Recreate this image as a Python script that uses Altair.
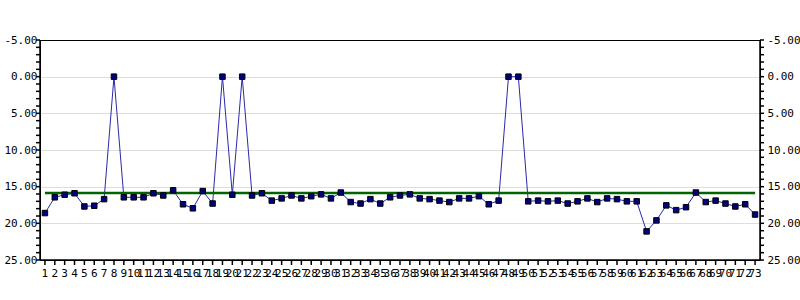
import altair as alt
import pandas as pd

categories = [str(i) for i in range(1, 74)]
values = [18.6, 16.45, 16.1, 15.9, 17.7, 17.6, 16.7, 0.0, 16.45, 16.45,
          16.45, 15.9, 16.2, 15.5, 17.4, 17.95, 15.6, 17.3, 0.0, 16.1,
          0.0, 16.2, 15.9, 16.9, 16.6, 16.2, 16.6, 16.3, 16.05, 16.6,
          15.8, 17.1, 17.3, 16.7, 17.3, 16.45, 16.2, 16.05, 16.6, 16.7,
          16.9, 17.1, 16.6, 16.6, 16.3, 17.4, 16.9, 0.0, 0.0, 17.0,
          16.9, 17.0, 16.9, 17.3, 17.0, 16.6, 17.1, 16.6, 16.7, 17.0,
          17.0, 21.1, 19.6, 17.55, 18.2, 17.8, 15.8, 17.1, 16.9, 17.3,
          17.7, 17.4, 18.8]
average = [15.85] * len(categories)
label_ticks = [-5, 0, 5, 10, 15, 20, 25]
grid_ticks = [0, 5, 10, 15, 20]
minor_ticks = list(range(-5, 26))

df = pd.DataFrame({"cat": categories, "value": values, "avg": average})
tick_df = pd.DataFrame({"t": minor_ticks})
edge_df = pd.DataFrame({"e": [-5, 25]})

FONT = "DejaVu Sans Mono"
FS = 11
LW = 1.5
LABEL_EXPR = ("datum.value < 0 ? '-' + format(-datum.value, '.2f') "
              ": format(datum.value, '.2f')")

xscale = alt.Scale(paddingInner=0, paddingOuter=0)
yscale = alt.Scale(domain=[-5, 25], reverse=True, nice=False, zero=False)

x_enc = alt.X("cat:O", sort=categories, scale=xscale, title=None,
              axis=alt.Axis(orient="bottom", labelAngle=0, labelOverlap=False,
                            labelFont=FONT, labelFontSize=FS, labelColor="#000000",
                            ticks=False, domain=False, labelPadding=7,
                            bandPosition=0.5, grid=False))

base = alt.Chart(df)

grid_layer = base.mark_point(opacity=0).encode(
    x=x_enc,
    y=alt.Y("value:Q", scale=yscale, title=None,
            axis=alt.Axis(orient="left", values=grid_ticks, labels=False,
                          ticks=False, domain=False, grid=True,
                          gridColor="#dddddd", gridWidth=1)),
)

line = base.mark_line(color="#2a2aaa", strokeWidth=1).encode(
    x=x_enc,
    y=alt.Y("value:Q", scale=yscale, title=None,
            axis=alt.Axis(orient="left", values=label_ticks, labelExpr=LABEL_EXPR,
                          labelFont=FONT, labelFontSize=FS, labelColor="#000000",
                          ticks=False, labelPadding=3, domain=False, grid=False)),
)

avg_line = base.mark_line(color="#006400", strokeWidth=2.5).encode(
    x=x_enc,
    y=alt.Y("avg:Q", scale=yscale, title=None,
            axis=alt.Axis(orient="right", values=label_ticks, labelExpr=LABEL_EXPR,
                          labelFont=FONT, labelFontSize=FS, labelColor="#000000",
                          ticks=False, labelPadding=7, domain=False, grid=False)),
)

points = base.mark_square(size=30, color="#000080", stroke="black",
                          strokeWidth=1, opacity=1).encode(
    x=x_enc,
    y=alt.Y("value:Q", scale=yscale, title=None, axis=None),
)

# frame edges (left / right borders and bottom axis line)
left_edge = alt.Chart(edge_df).mark_rule(color="black", strokeWidth=LW).encode(
    x=alt.value(0), y=alt.Y("min(e):Q", scale=yscale, axis=None),
    y2=alt.Y2("max(e):Q"))
right_edge = alt.Chart(edge_df).mark_rule(color="black", strokeWidth=LW).encode(
    x=alt.value(720), y=alt.Y("min(e):Q", scale=yscale, axis=None),
    y2=alt.Y2("max(e):Q"))
bottom_edge = alt.Chart(edge_df).mark_rule(color="black", strokeWidth=LW).encode(
    y=alt.Y("max(e):Q", scale=yscale, axis=None),
    x=alt.value(0), x2=alt.value(720))

# minor / major tick marks on both y axes
left_ticks = alt.Chart(tick_df).mark_rule(color="black", strokeWidth=LW).encode(
    y=alt.Y("t:Q", scale=yscale, axis=None), x=alt.value(-4), x2=alt.value(0))
right_ticks = alt.Chart(tick_df).mark_rule(color="black", strokeWidth=LW).encode(
    y=alt.Y("t:Q", scale=yscale, axis=None), x=alt.value(720), x2=alt.value(724))

# category tick marks under the x axis
x_ticks = base.mark_rule(color="black", strokeWidth=LW).encode(
    x=x_enc, y=alt.value(220), y2=alt.value(225))

chart = alt.layer(grid_layer, line, avg_line, points, left_edge, right_edge,
                  bottom_edge, left_ticks, right_ticks, x_ticks).resolve_axis(
    y="independent"
).properties(
    width=720, height=220,
    autosize=alt.AutoSizeParams(type="none"),
    padding={"left": 40, "top": 40, "right": 40, "bottom": 40},
).configure(background="white").configure_view(
    stroke="#000000", strokeWidth=1
)

chart.save("out.html", embed_options={"renderer": "svg", "actions": False})
